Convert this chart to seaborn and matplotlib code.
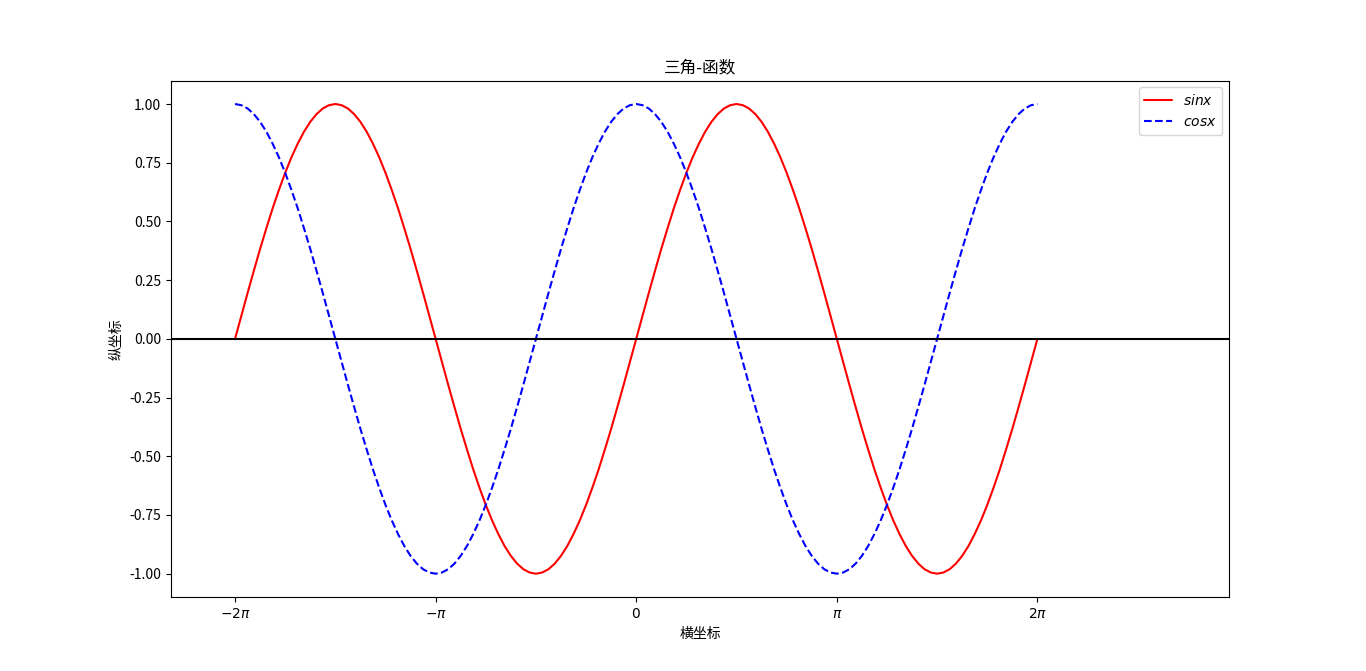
import numpy as np
import pandas as pd
import matplotlib
matplotlib.use("Agg")
import matplotlib.pyplot as plt
import seaborn as sns

# 采样点：以 π/32 为单位的横坐标 (-2π ... 2π)
x_steps = list(range(-64, 65))

# sin / cos 值
sin_vals = [
    0, 0.098, 0.195, 0.290, 0.383, 0.471, 0.556, 0.634, 0.707, 0.773, 0.831, 0.882, 0.924, 0.957, 0.981, 0.995,
    1, 0.995, 0.981, 0.957, 0.924, 0.882, 0.831, 0.773, 0.707, 0.634, 0.556, 0.471, 0.383, 0.290, 0.195, 0.098,
    0, -0.098, -0.195, -0.290, -0.383, -0.471, -0.556, -0.634, -0.707, -0.773, -0.831, -0.882, -0.924, -0.957, -0.981, -0.995,
    -1, -0.995, -0.981, -0.957, -0.924, -0.882, -0.831, -0.773, -0.707, -0.634, -0.556, -0.471, -0.383, -0.290, -0.195, -0.098,
    0, 0.098, 0.195, 0.290, 0.383, 0.471, 0.556, 0.634, 0.707, 0.773, 0.831, 0.882, 0.924, 0.957, 0.981, 0.995,
    1, 0.995, 0.981, 0.957, 0.924, 0.882, 0.831, 0.773, 0.707, 0.634, 0.556, 0.471, 0.383, 0.290, 0.195, 0.098,
    0, -0.098, -0.195, -0.290, -0.383, -0.471, -0.556, -0.634, -0.707, -0.773, -0.831, -0.882, -0.924, -0.957, -0.981, -0.995,
    -1, -0.995, -0.981, -0.957, -0.924, -0.882, -0.831, -0.773, -0.707, -0.634, -0.556, -0.471, -0.383, -0.290, -0.195, -0.098,
    0,
]
cos_vals = [
    1, 0.995, 0.981, 0.957, 0.924, 0.882, 0.831, 0.773, 0.707, 0.634, 0.556, 0.471, 0.383, 0.290, 0.195, 0.098,
    0, -0.098, -0.195, -0.290, -0.383, -0.471, -0.556, -0.634, -0.707, -0.773, -0.831, -0.882, -0.924, -0.957, -0.981, -0.995,
    -1, -0.995, -0.981, -0.957, -0.924, -0.882, -0.831, -0.773, -0.707, -0.634, -0.556, -0.471, -0.383, -0.290, -0.195, -0.098,
    0, 0.098, 0.195, 0.290, 0.383, 0.471, 0.556, 0.634, 0.707, 0.773, 0.831, 0.882, 0.924, 0.957, 0.981, 0.995,
    1, 0.995, 0.981, 0.957, 0.924, 0.882, 0.831, 0.773, 0.707, 0.634, 0.556, 0.471, 0.383, 0.290, 0.195, 0.098,
    0, -0.098, -0.195, -0.290, -0.383, -0.471, -0.556, -0.634, -0.707, -0.773, -0.831, -0.882, -0.924, -0.957, -0.981, -0.995,
    -1, -0.995, -0.981, -0.957, -0.924, -0.882, -0.831, -0.773, -0.707, -0.634, -0.556, -0.471, -0.383, -0.290, -0.195, -0.098,
    0, 0.098, 0.195, 0.290, 0.383, 0.471, 0.556, 0.634, 0.707, 0.773, 0.831, 0.882, 0.924, 0.957, 0.981, 0.995,
    1,
]

tick_pos = [-2, -1, 0, 1, 2]  # 以 π 为单位
tick_labels = [r"$-2\pi$", r"$-\pi$", r"$0$", r"$\pi$", r"$2\pi$"]
y_ticks = [-1, -0.75, -0.5, -0.25, 0, 0.25, 0.5, 0.75, 1]

df = pd.DataFrame({"x": np.array(x_steps) * np.pi / 32, "sin": sin_vals, "cos": cos_vals})

sns.set_style("ticks", {"axes.edgecolor": "black", "text.color": "black",
                        "xtick.color": "black", "ytick.color": "black",
                        "axes.labelcolor": "black"})
plt.rcParams["font.family"] = ["Noto Sans CJK SC", "DejaVu Sans"]
plt.rcParams["axes.unicode_minus"] = False

fig, ax = plt.subplots(figsize=(13.66, 6.71), dpi=100)
sns.lineplot(data=df, x="x", y="sin", ax=ax, color="red", label="$sinx$", linewidth=1.5)
sns.lineplot(data=df, x="x", y="cos", ax=ax, color="blue", linestyle="--", label="$cosx$", linewidth=1.5)
ax.axhline(0, color="black", linewidth=1.5)

ax.set_xlim(-7.29, 9.29)
ax.set_ylim(-1.1, 1.1)
ax.set_xticks(np.array(tick_pos) * np.pi)
ax.set_xticklabels(tick_labels, fontsize=10)
ax.set_yticks(y_ticks)
ax.set_yticklabels([f"{v:.2f}" for v in y_ticks])
ax.set_xlabel("横坐标", fontsize=10)
ax.set_ylabel("纵坐标", fontsize=10)
ax.set_title("三角-函数", fontsize=12)
ax.legend(loc="upper right", fontsize=10)

plt.savefig("out.png", dpi=100)
